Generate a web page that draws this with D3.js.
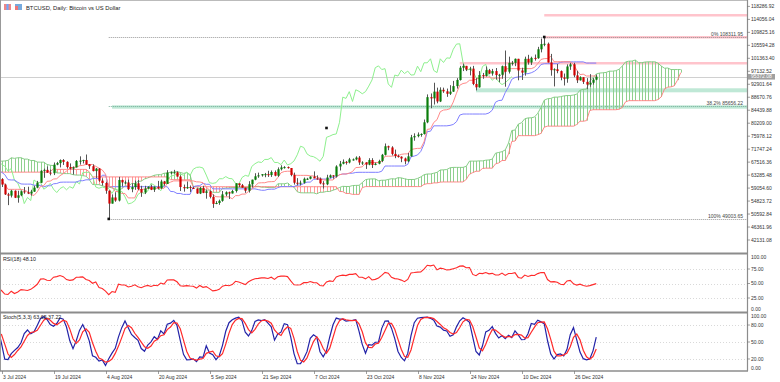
<!DOCTYPE html>
<html><head><meta charset="utf-8">
<script src="https://cdn.jsdelivr.net/npm/d3@7"></script>
<style>body{margin:0;background:#fff}svg{display:block;font-family:"Liberation Sans",Arial,sans-serif}</style>
</head><body><svg id="c" width="780" height="382"></svg>
<script>
// ---------- DATA (BTCUSD daily, thousands of USD), first bar = startDate ----------
const startDate = "2024-04-15";
const openK = [
65.7,63.4,63.8,61.3,63.5,63.8,64.9,64.9,66.8,66.4,64.3,64.5,63.8,63.4,63.1,63.8,
60.6,58.3,59.1,62.9,63.9,64.0,63.2,62.3,61.2,63.1,60.8,60.8,61.5,62.9,61.6,66.3,65.2,67.0,66.9,66.3,71.4,70.1,69.2,67.9,68.5,69.3,68.5,69.4,68.4,67.6,68.4,
67.5,67.7,67.8,68.8,70.6,71.1,70.8,69.3,69.3,69.6,69.5,67.3,68.2,66.8,66.0,66.2,66.6,66.5,65.1,65.0,64.9,64.1,64.3,63.2,60.3,61.8,60.9,61.6,60.3,60.9,
62.7,62.9,62.0,60.2,57.0,56.6,58.2,55.9,56.7,58.0,57.7,57.3,57.9,59.2,60.8,64.7,65.0,64.1,63.9,66.7,67.2,68.2,67.6,65.9,65.4,65.8,67.9,68.0,68.2,66.8,66.2,
64.6,65.4,61.5,60.7,58.2,54.0,56.0,55.0,61.7,60.9,60.9,58.7,59.4,60.6,58.7,57.6,58.9,59.5,58.5,59.5,59.0,61.2,60.4,64.1,64.2,64.2,62.8,59.4,59.0,59.4,59.1,
58.9,57.3,59.1,57.5,58.0,56.2,53.9,54.2,54.9,57.0,57.7,57.3,58.1,60.6,60.0,59.2,58.2,60.3,61.8,62.9,63.2,63.6,63.6,63.3,64.3,63.1,65.2,65.8,65.9,65.6,
63.3,60.8,60.6,60.8,62.1,62.1,62.8,62.2,62.1,60.6,60.3,62.5,63.2,62.9,66.1,67.0,67.6,67.4,68.4,68.4,69.0,67.4,67.4,66.7,68.2,66.6,67.0,67.9,69.9,72.7,72.3,
70.2,69.5,69.3,68.7,67.8,69.4,75.6,76.0,76.5,76.7,80.5,88.7,88.3,90.5,87.3,91.1,90.6,89.8,90.5,92.3,94.3,98.3,98.9,97.7,98.0,93.0,91.9,95.9,95.6,97.5,
96.4,97.2,95.9,96.0,98.8,97.0,99.9,99.9,101.2,97.4,96.7,101.2,100.0,101.5,101.4,104.3,106.0,106.1,100.0,97.5,97.8,97.2,95.1,94.7,98.7,99.4,95.8,94.2,95.2,93.7,92.8,
93.4,94.4];
const highK = [
66.9,64.4,64.5,64.0,65.4,65.4,65.7,67.2,67.2,67.1,65.3,64.8,63.9,64.4,64.2,64.7,
60.8,59.6,63.3,64.3,64.6,65.5,64.4,62.9,63.4,63.5,61.5,61.8,63.4,63.1,66.4,66.7,67.4,67.4,67.7,71.5,71.9,70.6,70.0,69.2,69.6,69.5,70.6,69.5,68.9,69.5,69.0,
67.9,68.4,70.2,71.0,71.7,71.6,71.9,69.5,69.9,70.1,69.6,69.9,68.4,67.3,66.4,66.9,67.2,66.5,65.7,66.4,65.0,64.5,64.5,63.4,62.3,62.4,62.3,62.2,61.1,63.0,
63.8,63.3,62.3,60.5,57.5,58.5,58.3,58.2,58.3,59.4,59.5,58.5,59.8,61.4,64.9,65.4,66.1,65.1,67.4,67.6,68.4,68.5,67.8,67.1,66.1,68.2,69.4,68.3,70.0,66.9,66.8,
65.6,65.6,62.2,61.1,58.3,57.0,57.7,62.7,61.8,61.5,61.8,60.6,61.5,61.7,59.8,59.8,59.6,60.2,59.6,61.4,61.8,61.4,64.9,64.5,65.0,64.5,63.2,60.2,61.2,59.9,59.5,
59.0,59.4,59.8,58.5,58.3,57.0,54.8,55.3,58.1,58.0,57.9,58.5,60.6,60.6,60.4,59.2,61.3,61.8,63.9,64.1,63.6,64.0,64.7,64.8,64.8,65.8,66.5,66.2,66.1,65.6,
64.1,62.3,61.5,62.5,62.4,62.9,64.5,63.2,62.5,61.3,63.4,63.5,63.3,66.5,67.9,68.4,67.9,68.9,68.7,69.4,69.5,67.8,67.5,68.8,68.8,67.4,68.3,70.2,73.6,72.9,72.7,
71.6,70.0,69.4,69.0,70.5,76.4,76.9,77.2,76.9,81.4,89.6,89.9,93.4,91.8,91.9,91.8,91.5,92.6,94.0,94.9,98.9,99.6,98.9,98.6,98.9,94.9,97.2,96.6,98.7,97.9,
97.9,98.2,96.3,99.0,103.9,101.9,100.5,101.3,101.2,98.3,101.9,102.5,101.9,102.6,105.1,107.8,108.312,106.5,102.8,98.1,99.5,97.4,96.4,99.4,99.9,99.9,97.3,95.5,95.2,94.9,96.2,
94.9,96.0];
const lowK = [
62.3,61.7,59.8,60.8,59.6,63.1,64.3,64.5,65.9,63.6,62.8,63.3,62.8,62.9,61.8,59.1,
56.6,56.9,58.8,62.6,63.0,62.8,62.2,60.9,60.6,60.2,60.6,60.6,60.8,61.1,61.3,64.6,65.1,66.6,65.9,66.1,69.2,69.1,66.3,66.7,68.5,68.2,68.3,67.3,67.1,67.1,66.7,
67.4,67.3,67.6,68.6,70.2,70.2,68.8,69.1,69.1,69.2,66.1,66.9,66.3,65.1,65.9,66.0,65.1,64.1,64.7,64.5,63.4,63.9,63.2,58.4,60.3,60.7,60.6,60.0,60.3,60.7,
62.4,61.8,59.4,56.8,53.5,56.0,55.8,54.3,56.4,57.2,57.1,56.6,57.8,59.0,60.7,62.4,64.0,63.2,63.3,66.5,65.8,66.6,65.4,65.1,63.5,65.8,66.7,67.1,66.6,65.3,64.5,
62.3,61.1,59.9,57.2,49.0037,54.0,54.6,54.7,59.6,60.3,58.4,57.7,58.5,58.4,56.2,57.1,58.8,58.4,57.8,58.6,58.8,59.8,60.4,63.6,63.8,62.8,58.1,57.9,58.8,57.8,58.8,
57.2,57.1,57.4,55.6,55.7,52.6,53.8,53.6,54.6,56.4,55.5,57.3,57.6,59.4,59.2,57.5,57.6,59.2,61.6,62.4,62.8,62.6,62.7,62.7,62.9,62.7,64.8,65.4,65.4,62.9,
60.2,59.9,59.9,60.5,61.7,61.9,62.3,61.8,60.3,58.9,60.0,62.4,62.1,62.5,64.8,66.8,66.7,67.1,68.0,68.1,66.6,66.6,65.3,66.5,65.6,66.5,66.8,67.5,69.7,71.4,69.7,
68.8,69.0,67.5,66.8,67.5,69.3,74.5,75.6,75.8,76.5,80.2,85.1,86.3,86.7,87.1,90.1,88.8,89.4,90.4,91.5,94.1,97.2,97.2,95.8,92.6,90.9,91.8,94.7,95.4,96.2,
95.7,94.4,93.6,94.7,92.1,96.4,99.0,98.8,94.2,94.3,95.7,99.3,99.2,100.6,101.2,103.3,105.3,100.0,95.7,92.2,96.5,94.2,92.5,93.4,97.6,95.2,93.3,94.1,93.0,91.3,92.1,
92.8,94.2];
const closeK = [
63.4,63.8,61.3,63.5,63.8,64.9,64.9,66.8,66.4,64.3,64.5,63.8,63.4,63.1,63.8,60.6,
58.3,59.1,62.9,63.9,64.0,63.2,62.3,61.2,63.1,60.8,60.8,61.5,62.9,61.6,66.3,65.2,67.0,66.9,66.3,71.4,70.1,69.2,67.9,68.5,69.3,68.5,69.4,68.4,67.6,68.4,67.5,
67.7,67.8,68.8,70.6,71.1,70.8,69.3,69.3,69.6,69.5,67.3,68.2,66.8,66.0,66.2,66.6,66.5,65.1,65.0,64.9,64.1,64.3,63.2,60.3,61.8,60.9,61.6,60.3,60.9,62.7,
62.9,62.0,60.2,57.0,56.6,58.2,55.9,56.7,58.0,57.7,57.3,57.9,59.2,60.8,64.7,65.0,64.1,63.9,66.7,67.2,68.2,67.6,65.9,65.4,65.8,67.9,68.0,68.2,66.8,66.2,64.6,
65.4,61.5,60.7,58.2,54.0,56.0,55.0,61.7,60.9,60.9,58.7,59.4,60.6,58.7,57.6,58.9,59.5,58.5,59.5,59.0,61.2,60.4,64.1,64.2,64.2,62.8,59.4,59.0,59.4,59.1,58.9,
57.3,59.1,57.5,58.0,56.2,53.9,54.2,54.9,57.0,57.7,57.3,58.1,60.6,60.0,59.2,58.2,60.3,61.8,62.9,63.2,63.6,63.6,63.3,64.3,63.1,65.2,65.8,65.9,65.6,63.3,
60.8,60.6,60.8,62.1,62.1,62.8,62.2,62.1,60.6,60.3,62.5,63.2,62.9,66.1,67.0,67.6,67.4,68.4,68.4,69.0,67.4,67.4,66.7,68.2,66.6,67.0,67.9,69.9,72.7,72.3,70.2,
69.5,69.3,68.7,67.8,69.4,75.6,76.0,76.5,76.7,80.5,88.7,88.3,90.5,87.3,91.1,90.6,89.8,90.5,92.3,94.3,98.3,98.9,97.7,98.0,93.0,91.9,95.9,95.6,97.5,96.4,
97.2,95.9,96.0,98.8,97.0,99.9,99.9,101.2,97.4,96.7,101.2,100.0,101.5,101.4,104.3,106.0,106.1,100.0,97.5,97.8,97.2,95.1,94.7,98.7,99.4,95.8,94.2,95.2,93.7,92.8,93.4,
94.4,95.37];

const dateTicks = ["2024-07-03","2024-07-19","2024-08-04","2024-08-20","2024-09-05","2024-09-21","2024-10-07","2024-10-23","2024-11-08","2024-11-24","2024-12-10","2024-12-26"];
const dateTickLabels = ["3 Jul 2024","19 Jul 2024","4 Aug 2024","20 Aug 2024","5 Sep 2024","21 Sep 2024","7 Oct 2024","23 Oct 2024","8 Nov 2024","24 Nov 2024","10 Dec 2024","26 Dec 2024"];
const priceTickLabels = ["118286.92","114056.04","109825.16","105594.28","101363.40","97132.52","92901.64","88670.76","84439.88","80209.00","75978.12","71747.24","67516.36","63285.48","59054.60","54823.72","50592.84","46361.96","42131.08"];
const rsiTickLabels = ["100.00","75.00","50.00","25.00","0.00"];
const stochTickLabels = ["100.00","80.00","50.00","20.00","0.00"];
const rsiLevels = [75,50,25];
const stochLevels = [80,50,20];
const fibNames = ["0% 108311.95","38.2% 85656.22","100% 49003.65"];
const fibValues = [108311.95, 85656.22, 49003.65];
const fibAnchorDates = ["2024-08-05","2024-12-17"];
const fibAnchorValues = [49003.65, 108311.95];
const zoneStarts = ["2024-12-17","2024-12-17","2024-11-21","2024-11-26","2024-08-06"];
const zoneTops    = [115.8, 108.64, 100.16, 91.59, 86.04];
const zoneBottoms = [114.99, 107.82, 99.35, 90.28, 84.94];
const zoneKinds   = ["res","res","res","sup","sup"];
const markerDate = "2024-10-11", markerValue = 78.65;
const lastPriceLabel = "95372.08";
const rsiTitle = "RSI(18) 48.10";
const stochTitle = "Stoch(5,3,3) 63.65 37.22";
const chartTitle = "BTCUSD, Daily:  Bitcoin vs US Dollar";

// ---------- LAYOUT ----------
const svg = d3.select("#c");
const W = 780, H = 382, R = 747;
const mainTop = 0, mainBot = 253, rsiTop = 255, rsiBot = 312, stTop = 313, stBot = 371;
const day = 864e5;
const t0 = new Date(startDate + "T00:00:00Z").getTime();
const x = d3.scaleUtc().domain([new Date("2024-07-03T00:00:00Z"), new Date("2024-12-26T00:00:00Z")]).range([1.5, 1.5 + 176 * 3.25]);
const y = d3.scaleLinear().domain([42.13108, 118.28692]).range([240, 6.4]);
const yR = d3.scaleLinear().domain([0, 100]).range([312.5, 254.5]);
const yS = d3.scaleLinear().domain([0, 100]).range([370.3, 313.7]);
const fnt = "5px";

const defs = svg.append("defs");
defs.append("clipPath").attr("id", "cm").append("rect").attr("x", 0).attr("y", mainTop + 1).attr("width", R).attr("height", mainBot - mainTop - 1);
defs.append("clipPath").attr("id", "cr").append("rect").attr("x", 0).attr("y", rsiTop).attr("width", R).attr("height", rsiBot - rsiTop);
defs.append("clipPath").attr("id", "cs").append("rect").attr("x", 0).attr("y", stTop).attr("width", R).attr("height", stBot - stTop);

// ---------- INDICATORS (computed from the OHLC arrays) ----------
const n = closeK.length;
function hh(i, p) { let m = -Infinity; for (let j = i - p + 1; j <= i; j++) m = Math.max(m, highK[j]); return m; }
function ll(i, p) { let m = Infinity; for (let j = i - p + 1; j <= i; j++) m = Math.min(m, lowK[j]); return m; }
const tenkan = [], kijun = [], spanA = [], spanB = [], chikou = [];
for (let i = 0; i < n; i++) {
  if (i >= 8) tenkan.push({ i, v: (hh(i, 9) + ll(i, 9)) / 2 });
  if (i >= 25) kijun.push({ i, v: (hh(i, 26) + ll(i, 26)) / 2 });
  if (i >= 25) spanA.push({ i: i + 26, v: ((hh(i, 9) + ll(i, 9)) / 2 + (hh(i, 26) + ll(i, 26)) / 2) / 2 });
  if (i >= 51) spanB.push({ i: i + 26, v: (hh(i, 52) + ll(i, 52)) / 2 });
  if (i >= 26) chikou.push({ i: i - 26, v: closeK[i] });
}
const rsi = []; { const p = 18; let g = 0, l = 0;
  for (let i = 1; i <= p; i++) { const d = closeK[i] - closeK[i - 1]; if (d > 0) g += d; else l -= d; }
  g /= p; l /= p; rsi.push({ i: p, v: 100 - 100 / (1 + g / l) });
  for (let i = p + 1; i < n; i++) { const d = closeK[i] - closeK[i - 1];
    g = (g * (p - 1) + Math.max(d, 0)) / p; l = (l * (p - 1) + Math.max(-d, 0)) / p;
    rsi.push({ i, v: l === 0 ? 100 : 100 - 100 / (1 + g / l) }); } }
const stK = [], stD = [];
for (let i = 6; i < n; i++) { let num = 0, den = 0;
  for (let j = i - 2; j <= i; j++) { const lo = ll(j, 5), hi = hh(j, 5); num += closeK[j] - lo; den += hi - lo; }
  stK.push({ i, v: den === 0 ? 100 : 100 * num / den }); }
for (let k = 2; k < stK.length; k++) stD.push({ i: stK[k].i, v: (stK[k].v + stK[k - 1].v + stK[k - 2].v) / 3 });

const xi = i => x(new Date(t0 + i * day));

// ---------- MAIN PANE ----------
const gm = svg.append("g").attr("clip-path", "url(#cm)");
zoneStarts.forEach((s, k) => {
  const x0 = x(new Date(s + "T00:00:00Z"));
  gm.append("rect").attr("x", x0).attr("y", y(zoneTops[k])).attr("width", R - x0).attr("height", y(zoneBottoms[k]) - y(zoneTops[k]))
    .attr("fill", zoneKinds[k] === "res" ? "#ffc4cc" : "#bfe8d6");
});
gm.append("line").attr("x1", 0).attr("x2", R).attr("y1", Math.round(y(closeK[n - 1])) + 0.5).attr("y2", Math.round(y(closeK[n - 1])) + 0.5).attr("stroke", "#d0d0d0").attr("stroke-width", 1);
const fx0 = x(new Date(fibAnchorDates[0] + "T00:00:00Z"));
fibValues.forEach((v, k) => {
  const yy = Math.round(y(v / 1000)) + 0.5;
  gm.append("line").attr("x1", fx0).attr("x2", R).attr("y1", yy).attr("y2", yy).attr("stroke", k === 1 ? "#5f9f88" : "#808080").attr("stroke-width", 0.8).attr("stroke-dasharray", "1,1");
  gm.append("text").attr("x", 743).attr("y", yy - 1.5).attr("text-anchor", "end").attr("font-size", fnt).attr("fill", "#444").text(fibNames[k]);
});
const bMap = new Map(spanB.map(d => [d.i, d.v]));
spanA.forEach(d => { if (!bMap.has(d.i)) return; const b = bMap.get(d.i); const xx = Math.round(xi(d.i)) + 0.5;
  gm.append("line").attr("x1", xx).attr("x2", xx).attr("y1", y(d.v)).attr("y2", y(b)).attr("stroke", d.v >= b ? "#8fd08f" : "#ff9a9a").attr("stroke-width", 1); });
const ln = d3.line().x(d => xi(d.i)).y(d => y(d.v));
const spanAv = spanA.filter(d => bMap.has(d.i));
gm.append("path").attr("d", ln(spanAv)).attr("fill", "none").attr("stroke", "#7cc87c").attr("stroke-width", 0.9);
gm.append("path").attr("d", ln(spanB)).attr("fill", "none").attr("stroke", "#ff7c7c").attr("stroke-width", 0.9);
gm.append("path").attr("d", ln(chikou)).attr("fill", "none").attr("stroke", "#8ef08e").attr("stroke-width", 1);
gm.append("path").attr("d", ln(kijun)).attr("fill", "none").attr("stroke", "#7f7fff").attr("stroke-width", 1);
gm.append("path").attr("d", ln(tenkan)).attr("fill", "none").attr("stroke", "#ff8a8a").attr("stroke-width", 1);
for (let i = 0; i < n; i++) {
  const cx = Math.round(xi(i)) + 0.5, o = openK[i], c = closeK[i];
  gm.append("line").attr("x1", cx).attr("x2", cx).attr("y1", y(highK[i])).attr("y2", y(lowK[i])).attr("stroke", "#555").attr("stroke-width", 1);
  const top = y(Math.max(o, c)), bot = y(Math.min(o, c));
  gm.append("rect").attr("x", cx - 1.1).attr("y", top).attr("width", 2.2).attr("height", Math.max(1, bot - top))
    .attr("fill", c >= o ? "#0a7d0a" : "#d00000");
}
fibAnchorDates.forEach((d, k) => gm.append("rect").attr("x", x(new Date(d + "T00:00:00Z")) - 1.3).attr("y", y(fibAnchorValues[k] / 1000) - 1.3).attr("width", 2.6).attr("height", 2.6).attr("fill", "#111"));
gm.append("rect").attr("x", x(new Date(markerDate + "T00:00:00Z")) - 1.3).attr("y", y(markerValue) - 1.3).attr("width", 2.6).attr("height", 2.6).attr("fill", "#111");

// title
svg.append("rect").attr("x", 4).attr("y", 4).attr("width", 7).attr("height", 6).attr("fill", "#e88");
svg.append("rect").attr("x", 6.5).attr("y", 4).attr("width", 2).attr("height", 6).attr("fill", "#6af");
svg.append("rect").attr("x", 15).attr("y", 4).attr("width", 7).attr("height", 6).attr("fill", "#7ad");
svg.append("rect").attr("x", 15).attr("y", 6).attr("width", 3).attr("height", 4).attr("fill", "#e77");
svg.append("text").attr("x", 26).attr("y", 9.8).attr("font-size", "5.8px").attr("fill", "#222").text(chartTitle);

// ---------- RSI PANE ----------
const gr = svg.append("g").attr("clip-path", "url(#cr)");
rsiLevels.forEach(v => gr.append("line").attr("x1", 0).attr("x2", R).attr("y1", Math.round(yR(v)) + 0.5).attr("y2", Math.round(yR(v)) + 0.5).attr("stroke", "#c8c8c8").attr("stroke-width", 0.7).attr("stroke-dasharray", "1,2"));
gr.append("path").attr("d", d3.line().x(d => xi(d.i)).y(d => yR(d.v))(rsi)).attr("fill", "none").attr("stroke", "#ff2a2a").attr("stroke-width", 1.1);
svg.append("text").attr("x", 3).attr("y", 261).attr("font-size", "5.3px").attr("fill", "#222").text(rsiTitle);

// ---------- STOCH PANE ----------
const gs = svg.append("g").attr("clip-path", "url(#cs)");
stochLevels.forEach(v => gs.append("line").attr("x1", 0).attr("x2", R).attr("y1", Math.round(yS(v)) + 0.5).attr("y2", Math.round(yS(v)) + 0.5).attr("stroke", "#c8c8c8").attr("stroke-width", 0.7).attr("stroke-dasharray", "1,2"));
gs.append("path").attr("d", d3.line().x(d => xi(d.i)).y(d => yS(d.v))(stK)).attr("fill", "none").attr("stroke", "#2323a8").attr("stroke-width", 1.2);
gs.append("path").attr("d", d3.line().x(d => xi(d.i)).y(d => yS(d.v))(stD)).attr("fill", "none").attr("stroke", "#ff2a2a").attr("stroke-width", 1.2);
svg.append("text").attr("x", 3).attr("y", 319).attr("font-size", "5.3px").attr("fill", "#222").text(stochTitle);

// ---------- FRAMES ----------
svg.append("line").attr("x1", 0).attr("x2", R).attr("y1", 0.5).attr("y2", 0.5).attr("stroke", "#bbb");
svg.append("line").attr("x1", 0.5).attr("x2", 0.5).attr("y1", 0).attr("y2", stBot).attr("stroke", "#999");
[mainBot + 0.5, rsiBot + 0.5].forEach(yy => svg.append("line").attr("x1", 0).attr("x2", R).attr("y1", yy).attr("y2", yy).attr("stroke", "#8c8c8c").attr("stroke-width", 2));
svg.append("line").attr("x1", 0).attr("x2", R + 1).attr("y1", stBot).attr("y2", stBot).attr("stroke", "#8c8c8c").attr("stroke-width", 1.5);
svg.append("line").attr("x1", R + 0.5).attr("x2", R + 0.5).attr("y1", 0).attr("y2", stBot).attr("stroke", "#8c8c8c").attr("stroke-width", 1.2);

const ga = svg.append("g");
priceTickLabels.forEach(s => { const yy = y(parseFloat(s) / 1000);
  ga.append("line").attr("x1", R).attr("x2", R + 3).attr("y1", yy).attr("y2", yy).attr("stroke", "#777").attr("stroke-width", 0.7);
  ga.append("text").attr("x", R + 4).attr("y", yy + 1.8).attr("font-size", fnt).attr("fill", "#333").text(s); });
{ const yy = y(closeK[n - 1]);
  ga.append("rect").attr("x", R + 1).attr("y", yy - 2.7).attr("width", 27).attr("height", 5.6).attr("fill", "#a0a0a0");
  ga.append("text").attr("x", R + 4).attr("y", yy + 1.8).attr("font-size", fnt).attr("fill", "#fff").text(lastPriceLabel); }
rsiTickLabels.forEach(s => { const v = parseFloat(s); let yy = yR(v); const ty = v === 100 ? yy + 4 : v === 0 ? yy - 1.5 : yy + 1.8;
  if (v !== 100 && v !== 0) ga.append("line").attr("x1", R).attr("x2", R + 3).attr("y1", yy).attr("y2", yy).attr("stroke", "#777").attr("stroke-width", 0.7);
  ga.append("text").attr("x", R + 4).attr("y", ty).attr("font-size", fnt).attr("fill", "#333").text(s); });
stochTickLabels.forEach(s => { const v = parseFloat(s); let yy = yS(v); const ty = v === 100 ? yy + 4 : v === 0 ? yy - 0.5 : yy + 1.8;
  if (v !== 100 && v !== 0) ga.append("line").attr("x1", R).attr("x2", R + 3).attr("y1", yy).attr("y2", yy).attr("stroke", "#777").attr("stroke-width", 0.7);
  ga.append("text").attr("x", R + 4).attr("y", ty).attr("font-size", fnt).attr("fill", "#333").text(s); });

dateTicks.forEach((d, k) => { const xx = Math.round(x(new Date(d + "T00:00:00Z"))) + 0.5;
  ga.append("line").attr("x1", xx).attr("x2", xx).attr("y1", stBot).attr("y2", stBot + 3).attr("stroke", "#777").attr("stroke-width", 0.7);
  ga.append("text").attr("x", xx + 0.5).attr("y", 378.5).attr("font-size", fnt).attr("fill", "#333").text(dateTickLabels[k]); });
</script></body></html>
